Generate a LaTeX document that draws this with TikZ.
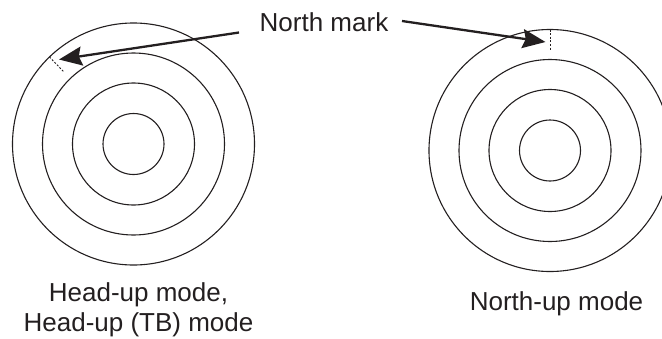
\documentclass[tikz,border=0pt]{standalone}
\usepackage{fontspec}
\setmainfont{Liberation Sans}
\usetikzlibrary{arrows.meta,calc}
\definecolor{ink}{RGB}{35,31,32}
\begin{document}
\begin{tikzpicture}[x=1pt,y=-1pt,
  ring/.style={draw=ink,line width=1.1pt},
  nmark/.style={draw=ink,line width=0.9pt,dash pattern=on 2pt off 1.6pt},
  pointer/.style={draw=ink,line width=2.3pt,-{Stealth[length=23pt,width=19pt,inset=3pt]}},
  lbl/.style={text=ink,font=\fontsize{26}{30}\selectfont,inner sep=0pt,anchor=base}]
\useasboundingbox (0,0) rectangle (662,338);
\coordinate (cl) at (133.5,144);
\coordinate (cr) at (550,150.5);
\begin{scope}
\clip (0,0) rectangle (662,338);
\foreach \r in {30.5,61,91,121}{
  \draw[ring] (cl) circle[radius=\r];
  \draw[ring] (cr) circle[radius=\r];
}
\end{scope}
% north marks
\coordinate (lm1) at ($(cl)+(-134:121)$);
\coordinate (lm2) at ($(cl)+(-134:100)$);
\coordinate (rm1) at ($(cr)+(-90:121)$);
\coordinate (rm2) at ($(cr)+(-90:100)$);
\draw[nmark] (lm1) -- (lm2);
\draw[nmark] (rm1) -- (rm2);
% labels
\node[lbl] (nm) at (324,31) {North mark};
\node[lbl] (h1) at (138.5,301) {Head-up mode,};
\node[lbl] (h2) at (138.5,331) {Head-up (TB) mode};
\node[lbl] (nu) at (556.5,310) {North-up mode};
% arrows
\coordinate (lt) at (239,32.5);
\coordinate (ltip) at (59,59.5);
\coordinate (rt) at (402,21);
\coordinate (rtip) at (545.5,42);
\draw[pointer] (lt) -- (ltip);
\draw[pointer] (rt) -- (rtip);
\end{tikzpicture}
\end{document}
